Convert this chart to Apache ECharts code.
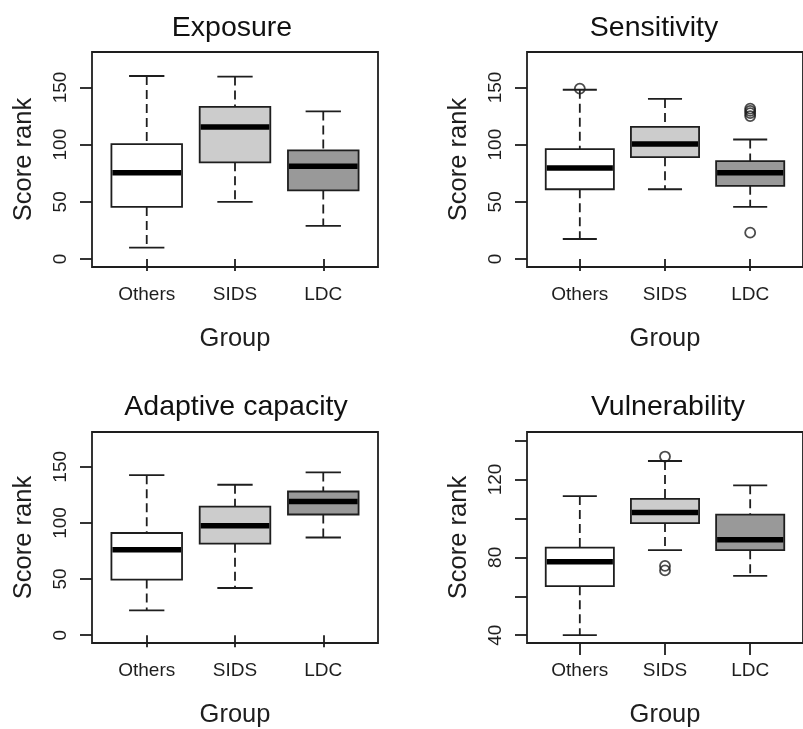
<!DOCTYPE html>
<html>
<head>
<meta charset="utf-8">
<script src="https://cdn.jsdelivr.net/npm/echarts@6/dist/echarts.min.js"></script>
<style>
html,body{margin:0;padding:0;background:#fff;}
#chart{width:803px;height:729px;}
</style>
</head>
<body>
<div id="chart"></div>
<script>
// ---- data ----
const groups = ['Others', 'SIDS', 'LDC'];
const panelTitles = ['Exposure', 'Sensitivity', 'Adaptive capacity', 'Vulnerability'];
// each row: [lower whisker, Q1, median, Q3, upper whisker]
const exposureStats = [[10, 45.5, 75.5, 100.5, 160], [50, 84.5, 115.5, 133, 159.5], [29, 60, 81, 95, 129]];
const exposureOutliers = [];
const sensitivityStats = [[17.5, 61, 79.5, 96, 148], [61, 89, 100.5, 115.5, 140], [45.5, 64, 75.5, 85.5, 104.5]];
const sensitivityOutliers = [[1, 149], [3, 131.5], [3, 129.5], [3, 127.5], [3, 125], [3, 23]];
const adaptiveStats = [[22, 49.5, 76, 91, 142.5], [42, 81.5, 97.5, 114.5, 134], [87, 107.5, 119, 128, 145]];
const adaptiveOutliers = [];
const vulnerabilityStats = [[40, 65.2, 77.8, 85, 111.5], [83.7, 97.6, 103, 110, 129.5], [70.5, 83.7, 89, 102, 117]];
const vulnerabilityOutliers = [[2, 131.8], [2, 75.6], [2, 73.3]];
const scoreTicks = [0, 50, 100, 150];
const vulnTicks = [40, 60, 80, 100, 120, 140];
const vulnTickLabels = [40, 80, 120];

// ---- styles ----
const fills = ['#ffffff', '#cccccc', '#999999'];
const ink = '#1e1e1e';
const font = "'Liberation Sans', Arial, Helvetica, sans-serif";
const lw = 1.8;

const panels = [
  {stats: exposureStats, outliers: exposureOutliers, ymin: -7, ymax: 181, ticks: scoreTicks, labels: scoreTicks,
   grid: {left: 92, top: 52, width: 286, height: 215}, title: [232, 28]},
  {stats: sensitivityStats, outliers: sensitivityOutliers, ymin: -7, ymax: 181, ticks: scoreTicks, labels: scoreTicks,
   grid: {left: 527, top: 52, width: 286, height: 215}, title: [654, 28]},
  {stats: adaptiveStats, outliers: adaptiveOutliers, ymin: -7, ymax: 181, ticks: scoreTicks, labels: scoreTicks,
   grid: {left: 92, top: 432, width: 286, height: 214}, title: [236, 407]},
  {stats: vulnerabilityStats, outliers: vulnerabilityOutliers, ymin: 36, ymax: 144.4, ticks: vulnTicks, labels: vulnTickLabels,
   grid: {left: 527, top: 432, width: 286, height: 214}, title: [668, 407]}
];

function renderBox(params, api) {
  const x = api.value(0);
  const lo = api.value(1), q1 = api.value(2), med = api.value(3), q3 = api.value(4), hi = api.value(5);
  const pc = api.coord([x, med]);
  const cx = pc[0];
  const boxL = api.coord([x - 0.4, med])[0];
  const boxR = api.coord([x + 0.4, med])[0];
  const capL = api.coord([x - 0.2, med])[0];
  const capR = api.coord([x + 0.2, med])[0];
  const yLo = api.coord([x, lo])[1];
  const yQ1 = api.coord([x, q1])[1];
  const yMed = pc[1];
  const yQ3 = api.coord([x, q3])[1];
  const yHi = api.coord([x, hi])[1];
  const solid = {stroke: ink, lineWidth: lw};
  const dashed = {stroke: ink, lineWidth: lw, lineDash: [9, 5]};
  return {
    type: 'group',
    children: [
      {type: 'line', shape: {x1: cx, y1: yHi, x2: cx, y2: yQ3}, style: dashed},
      {type: 'line', shape: {x1: cx, y1: yQ1, x2: cx, y2: yLo}, style: dashed},
      {type: 'line', shape: {x1: capL, y1: yHi, x2: capR, y2: yHi}, style: solid},
      {type: 'line', shape: {x1: capL, y1: yLo, x2: capR, y2: yLo}, style: solid},
      {type: 'rect', shape: {x: boxL, y: yQ3, width: boxR - boxL, height: yQ1 - yQ3},
       style: {fill: fills[params.dataIndex], stroke: ink, lineWidth: lw}},
      {type: 'line', shape: {x1: boxL + 1, y1: yMed, x2: boxR - 1, y2: yMed}, style: {stroke: '#000', lineWidth: 5.5}}
    ]
  };
}

const option = {
  backgroundColor: '#ffffff',
  animation: false,
  textStyle: {fontFamily: font},
  grid: [], xAxis: [], yAxis: [], series: [], graphic: []
};

panels.forEach((p, i) => {
  option.grid.push(Object.assign({show: true, borderColor: ink, borderWidth: lw, backgroundColor: 'transparent'}, p.grid));
  option.xAxis.push({
    gridIndex: i, type: 'value', min: 0.38, max: 3.62,
    axisLine: {show: false}, splitLine: {show: false},
    axisTick: {show: true, customValues: [1, 2, 3], length: 12, lineStyle: {color: ink, width: lw}},
    axisLabel: {customValues: [1, 2, 3], formatter: v => groups[Math.round(v) - 1], fontSize: 19, margin: 18, color: ink, fontFamily: font},
    name: 'Group', nameLocation: 'middle', nameGap: 59,
    nameTextStyle: {fontSize: 25.5, color: ink, fontFamily: font}
  });
  option.yAxis.push({
    gridIndex: i, type: 'value', min: p.ymin, max: p.ymax,
    axisLine: {show: false}, splitLine: {show: false},
    axisTick: {show: true, customValues: p.ticks, length: 12, lineStyle: {color: ink, width: lw}},
    axisLabel: {customValues: p.labels, rotate: 90, fontSize: 19, margin: 22, color: ink, fontFamily: font},
    name: 'Score rank', nameLocation: 'middle', nameRotate: 90, nameGap: 55,
    nameTextStyle: {fontSize: 25.5, color: ink, fontFamily: font}
  });
  option.series.push({
    type: 'custom', xAxisIndex: i, yAxisIndex: i,
    renderItem: renderBox,
    encode: {x: 0, y: [1, 2, 3, 4, 5]},
    data: p.stats.map((s, k) => [k + 1].concat(s)),
    clip: false
  });
  option.series.push({
    type: 'scatter', xAxisIndex: i, yAxisIndex: i,
    symbol: 'circle', symbolSize: 10,
    itemStyle: {color: 'rgba(0,0,0,0)', borderColor: ink, borderWidth: lw},
    data: p.outliers, z: 3
  });
  option.graphic.push({
    type: 'text', x: p.title[0], y: p.title[1],
    style: {text: panelTitles[i], fontSize: 28.5, fill: '#111', fontFamily: font, textAlign: 'center', textVerticalAlign: 'middle'}
  });
});

const chart = echarts.init(document.getElementById('chart'), null, {renderer: 'canvas'});
chart.setOption(option);
</script>
</body>
</html>
